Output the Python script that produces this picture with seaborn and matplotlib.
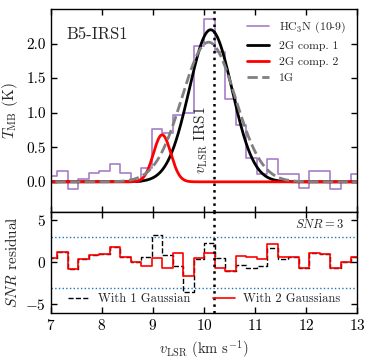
import matplotlib
matplotlib.use("Agg")
import matplotlib.pyplot as plt
import seaborn as sns
import numpy as np
import pandas as pd

# channel velocities (km/s) and HC3N (10-9) spectrum (K)
v_chan = [6.815, 7.021, 7.227, 7.432, 7.638, 7.843, 8.049, 8.255, 8.460, 8.666,
          8.871, 9.077, 9.282, 9.488, 9.694, 9.899, 10.105, 10.310, 10.516, 10.722,
          10.927, 11.133, 11.338, 11.544, 11.749, 11.955, 12.161, 12.366, 12.572,
          12.777, 12.983, 13.190]
t_mb = [0.05, 0.08, 0.16, -0.11, 0.04, 0.13, 0.15, 0.26, 0.13, 0.00,
        0.20, 0.77, 0.70, 0.96, 1.00, 1.96, 2.36, 1.88, 1.20, 0.82,
        0.35, 0.11, 0.33, 0.11, 0.11, -0.09, 0.16, 0.155, -0.10, 0.00,
        0.11, 0.05]

# SNR residuals per channel
res_1g = [0.5, 0.52, 1.15, -0.78, 0.32, 0.82, 1.02, 1.75, 0.65, -0.02,
          0.6, 3.25, 0.86, -0.4, -3.5, 0.36, 2.3, 0.48, -1.1, -0.35,
          -0.7, -0.5, 1.7, 0.4, 0.58, -0.63, 1.1, 1.0, -0.68, 0.02,
          0.67, 0.5]
res_2g = [0.5, 0.52, 1.15, -0.78, 0.32, 0.82, 1.02, 1.75, 0.65, -0.02,
          -0.44, 0.52, -0.68, 1.07, -1.63, 0.45, 1.07, -0.63, -1.08, 0.78,
          0.58, 0.36, 2.15, 0.58, 0.6, -0.63, 1.1, 1.0, -0.68, 0.02,
          0.67, 0.5]

# Gaussian fit parameters: amplitude (K), centre (km/s), sigma (km/s)
comp1 = (2.20, 10.13, 0.42)
comp2 = (0.68, 9.18, 0.17)
one_g = (2.02, 10.09, 0.52)
v_irs1 = 10.2

sns.set_theme(style="ticks")
plt.rcParams.update({
    "font.family": "serif",
    "font.serif": ["cmr10", "DejaVu Serif"],
    "mathtext.fontset": "cm",
    "axes.unicode_minus": False,
    "axes.formatter.use_mathtext": True,
    "xtick.direction": "in",
    "ytick.direction": "in",
    "xtick.top": True,
    "ytick.right": True,
    "axes.edgecolor": "black",
    "axes.linewidth": 1.0,
    "xtick.color": "black",
    "ytick.color": "black",
    "font.size": 10,
})

spec = pd.DataFrame({"v": v_chan, "T": t_mb, "r1": res_1g, "r2": res_2g})
vgrid = np.linspace(6.8, 13.2, 600)


def gauss(p):
    a, c, s = p
    return a * np.exp(-(vgrid - c) ** 2 / (2 * s ** 2))


fig, (ax1, ax2) = plt.subplots(2, 1, figsize=(3.74, 3.6), dpi=100, sharex=True,
                               gridspec_kw={"height_ratios": [2, 1], "hspace": 0})
fig.subplots_adjust(left=0.136, right=0.955, top=0.975, bottom=0.131)

sns.lineplot(data=spec, x="v", y="T", ax=ax1, drawstyle="steps-mid",
             color="tab:purple", alpha=0.85, lw=1.2, label=r"HC$_3$N (10-9)")
sns.lineplot(x=vgrid, y=gauss(comp1), ax=ax1, color="black", lw=2,
             label="2G comp. 1")
sns.lineplot(x=vgrid, y=gauss(comp2), ax=ax1, color="red", lw=2,
             label="2G comp. 2")
sns.lineplot(x=vgrid, y=gauss(one_g), ax=ax1, color="gray", lw=2, ls="--",
             label="1G")
ax1.axvline(v_irs1, color="black", ls=":", lw=1.8)
ax1.text(10.12, 0.12, r"$v_{\rm LSR}$ IRS1", rotation=90, ha="right", va="bottom",
         fontsize=11)
ax1.text(7.31, 2.13, "B5-IRS1", ha="left", va="center", fontsize=12)
ax1.set_xlim(7, 13)
ax1.set_ylim(-0.43, 2.5)
ax1.set_yticks([0.0, 0.5, 1.0, 1.5, 2.0])
ax1.set_yticklabels(["0.0", "0.5", "1.0", "1.5", "2.0"])
ax1.set_ylabel(r"$T_{\rm MB}$ (K)", fontsize=11)
ax1.legend(loc="upper right", frameon=False, fontsize=8.5, handlelength=1.85,
           handletextpad=0.85, borderaxespad=0.5, labelspacing=0.5)

sns.lineplot(data=spec, x="v", y="r1", ax=ax2, drawstyle="steps-mid",
             color="black", ls="--", lw=1.0, label="With 1 Gaussian")
sns.lineplot(data=spec, x="v", y="r2", ax=ax2, drawstyle="steps-mid",
             color="red", lw=1.2, label="With 2 Gaussians")
ax2.axhline(3, color="tab:blue", ls=":", lw=1.0)
ax2.axhline(-3, color="tab:blue", ls=":", lw=1.0)
ax2.axvline(v_irs1, color="black", ls=":", lw=1.8)
ax2.text(12.75, 4.5, r"$SNR=3$", ha="right", va="center", fontsize=9)
ax2.set_ylim(-6, 6)
ax2.set_yticks([-5, 0, 5])
ax2.set_xticks([7, 8, 9, 10, 11, 12, 13])
ax2.set_xlim(7, 13)
ax2.set_ylabel(r"$SNR$ residual", fontsize=11)
ax2.set_xlabel(r"$v_{\rm LSR}$ (km s$^{-1}$)", fontsize=10.5)
ax2.legend(loc="lower center", ncol=2, frameon=False, fontsize=9,
           handlelength=1.8, handletextpad=0.6, columnspacing=1.8,
           borderaxespad=0.2)

for ax in (ax1, ax2):
    ax.tick_params(length=4, width=1, labelsize=11)
ax1.tick_params(labelbottom=False)
fig.align_ylabels([ax1, ax2])

plt.savefig("out.png", dpi=100)
